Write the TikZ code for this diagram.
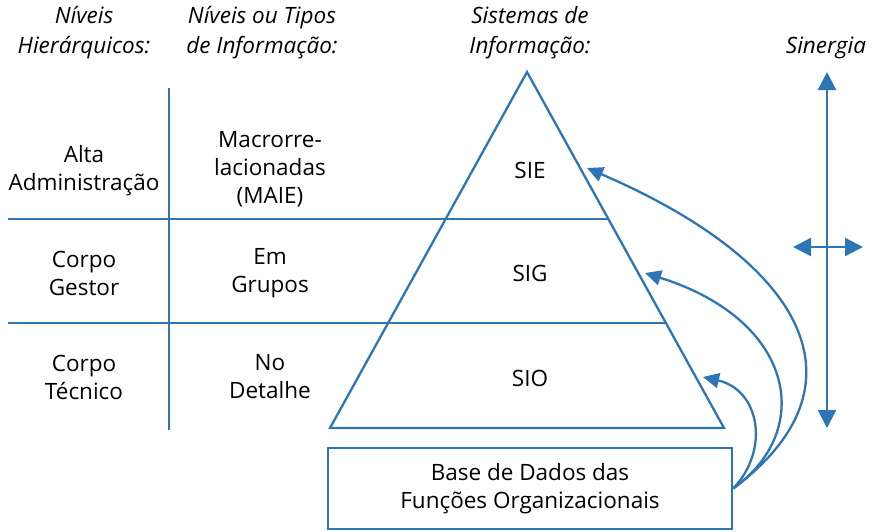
\documentclass[tikz,border=0pt]{standalone}
\usepackage{fontspec}
\setmainfont{Open Sans}
\usetikzlibrary{arrows.meta,positioning}
\definecolor{azul}{RGB}{46,117,182}

\begin{document}
\begin{tikzpicture}[x=1pt,y=-1pt,line width=2.3pt,
                    every node/.style={font=\fontsize{22.5}{28}\selectfont, align=center, inner sep=0pt},
                    head/.style={font=\fontsize{22.5}{30}\selectfont\itshape},
                    ln/.style={draw=azul},
                    seta/.style={ln,-{Triangle[length=16pt,width=15pt]}},
                    dupla/.style={ln,{Triangle[length=18pt,width=18pt]}-{Triangle[length=18pt,width=18pt]}}]

  \useasboundingbox (0,0) rectangle (876,531);

  % cabecalhos
  \node[head] at (84,33)    (hn)   {Níveis\\Hierárquicos:};
  \node[head] at (262,33)   (ht)   {Níveis ou Tipos\\de Informação:};
  \node[head] at (530,33)   (hs)   {Sistemas de\\Informação:};
  \node[head] at (826,48)   (hsin) {Sinergia};

  % piramide
  \coordinate (apex) at (527,72);
  \coordinate (bl)   at (330,428);
  \coordinate (br)   at (724,428);
  \draw[ln] (apex) -- (bl) -- (br) -- cycle;

  \coordinate (l1a) at (8,219);
  \coordinate (l1b) at (609,219);
  \coordinate (l2a) at (8,323);
  \coordinate (l2b) at (666,323);
  \coordinate (va)  at (169,88);
  \coordinate (vb)  at (169,430);
  \path[ln] (l1a) edge (l1b)
            (l2a) edge (l2b)
            (va)  edge (vb);

  \node at (84,171)  (alta)  {Alta\\Administração};
  \node at (84,273)  (gest)  {Corpo\\Gestor};
  \node at (84,377)  (tec)   {Corpo\\Técnico};
  \node at (270,169) (macro) {Macrorre-\\lacionadas\\(MAIE)};
  \node at (270,273) (grup)  {Em\\Grupos};
  \node at (270,377) (det)   {No\\Detalhe};
  \node at (530,170) (sie)   {SIE};
  \node at (530,273) (sig)   {SIG};
  \node at (530,378) (sio)   {SIO};

  \node[draw=azul, minimum width=404pt, minimum height=81pt] at (530,488.5) (base)
       {Base de Dados das\\Funções Organizacionais};

  % setas curvas
  \coordinate (tsie) at (587,168);
  \coordinate (tsig) at (645,273);
  \coordinate (tsio) at (703,377);
  \draw[seta] (base.east) .. controls (872,385) and (805,262) .. (tsie);
  \draw[seta] (base.east) .. controls (815,430) and (795,320) .. (tsig);
  \draw[seta] (base.east) .. controls (770,450) and (760,390) .. (tsio);

  % sinergia
  \coordinate (s1) at (827,72);
  \coordinate (s2) at (827,428);
  \coordinate (s3) at (793,247);
  \coordinate (s4) at (863,247);
  \draw[dupla] (s1) -- (s2);
  \draw[dupla] (s3) -- (s4);

\end{tikzpicture}
\end{document}
